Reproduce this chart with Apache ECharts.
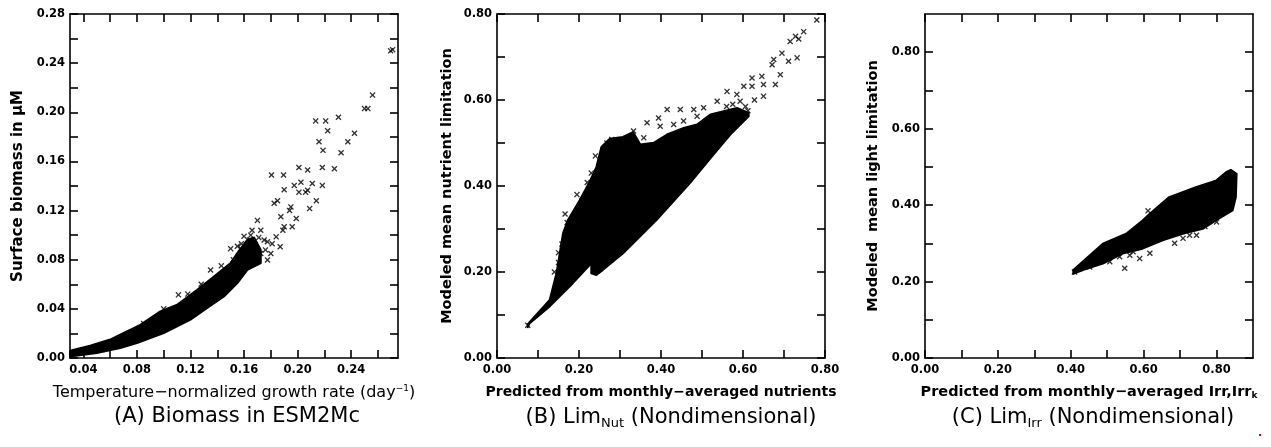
<!DOCTYPE html>
<html><head><meta charset="utf-8">
<script src="https://cdn.jsdelivr.net/npm/echarts@6/dist/echarts.min.js"></script>
<style>html,body{margin:0;padding:0;background:#fff}#c{width:1271px;height:447px}</style>
</head><body><div id="c"></div>
<script>
// ---------- Panel A: biomass vs growth rate ----------
const A_X_TICKS = [0.04,0.06,0.08,0.10,0.12,0.14,0.16,0.18,0.20,0.22,0.24,0.26];
const A_X_LABELS = [0.04,0.08,0.12,0.16,0.20,0.24];
const A_Y_TICKS = [0,0.02,0.04,0.06,0.08,0.10,0.12,0.14,0.16,0.18,0.20,0.22,0.24,0.26,0.28];
const A_Y_LABELS = [0,0.04,0.08,0.12,0.16,0.20,0.24,0.28];
// dense cloud outline (growth rate, biomass)
const A_CLOUD = [
 [0.030,0.0060],[0.045,0.0100],[0.060,0.0150],[0.0675,0.0190],[0.0825,0.0270],[0.0975,0.0379],
 [0.110,0.0434],[0.125,0.0556],[0.1375,0.0664],[0.150,0.0773],[0.155,0.0854],[0.1625,0.0963],
 [0.1675,0.0980],[0.1725,0.0880],[0.1725,0.0800],
 [0.1725,0.0773],[0.1625,0.0718],[0.155,0.0610],[0.145,0.0501],[0.1325,0.0407],[0.120,0.0312],
 [0.100,0.0203],[0.080,0.0122],[0.0675,0.0081],[0.050,0.0040],[0.030,0.0012]
];
// individual points outside the dense cloud
const A_POINTS = [
 [0.271,0.251],[0.2695,0.250],[0.256,0.214],[0.250,0.203],[0.2525,0.203],[0.2425,0.183],
 [0.2375,0.176],[0.2325,0.167],[0.2305,0.196],[0.221,0.193],[0.2135,0.193],[0.2225,0.185],
 [0.216,0.176],[0.219,0.169],[0.2185,0.155],[0.2275,0.154],[0.201,0.155],[0.2075,0.153],
 [0.1805,0.149],[0.1895,0.149],[0.2185,0.1405],[0.211,0.142],[0.2075,0.1365],[0.2025,0.143],
 [0.1975,0.1405],[0.190,0.137],[0.206,0.135],[0.201,0.135],[0.214,0.128],[0.209,0.1216],
 [0.195,0.123],[0.194,0.120],[0.185,0.128],[0.1825,0.126],[0.1875,0.115],[0.199,0.1135],
 [0.196,0.1068],[0.190,0.1068],[0.189,0.104],[0.184,0.0986],[0.1775,0.0946],[0.170,0.112],
 [0.1725,0.104],[0.175,0.096],[0.187,0.0905],[0.165,0.100],[0.164,0.096],[0.1575,0.089],
 [0.150,0.089],[0.135,0.0716],[0.111,0.0514],[0.1775,0.0797],[0.1725,0.085],[0.180,0.085],
 [0.168,0.092],[0.176,0.088],[0.181,0.093],[0.158,0.093],[0.152,0.080],[0.143,0.075],
 [0.128,0.060],[0.118,0.052],[0.100,0.040],[0.085,0.028],[0.160,0.099],[0.171,0.098],
 [0.166,0.104],[0.155,0.091]
];

// ---------- Panel B: nutrient limitation ----------
const B_TICKS = [0,0.1,0.2,0.3,0.4,0.5,0.6,0.7,0.8];
const B_LABELS = [0,0.2,0.4,0.6,0.8];
const B_CLOUD = [
 [0.0756,0.0795],[0.1285,0.135],[0.145,0.197],[0.153,0.243],[0.161,0.290],[0.173,0.321],
 [0.2017,0.367],[0.226,0.410],[0.2424,0.444],[0.2546,0.491],[0.275,0.510],[0.307,0.514],
 [0.332,0.525],[0.3496,0.4966],[0.3821,0.5005],[0.4146,0.5198],[0.4553,0.5352],[0.4878,0.5430],
 [0.5203,0.5662],[0.5528,0.5739],[0.5854,0.5816],[0.6138,0.5700],
 [0.6138,0.5623],[0.5691,0.5198],[0.5285,0.4734],[0.470,0.406],[0.389,0.321],[0.307,0.243],
 [0.2585,0.205],[0.2424,0.193],[0.230,0.197],[0.230,0.220],[0.185,0.174],[0.1285,0.120],
 [0.0798,0.081],[0.0748,0.0716]
];
const B_POINTS = [
 [0.780,0.786],[0.748,0.759],[0.728,0.748],[0.715,0.736],[0.736,0.742],[0.695,0.709],
 [0.675,0.694],[0.671,0.682],[0.711,0.690],[0.732,0.698],[0.691,0.659],[0.679,0.636],
 [0.650,0.636],[0.646,0.655],[0.622,0.651],[0.650,0.609],[0.622,0.632],[0.602,0.632],
 [0.585,0.613],[0.593,0.597],[0.561,0.620],[0.537,0.597],[0.504,0.582],[0.480,0.578],
 [0.447,0.578],[0.415,0.578],[0.488,0.562],[0.455,0.551],[0.431,0.543],[0.394,0.558],
 [0.366,0.547],[0.398,0.539],[0.333,0.528],[0.358,0.512],[0.268,0.500],[0.280,0.508],
 [0.220,0.408],[0.2195,0.373],[0.207,0.365],[0.171,0.315],[0.175,0.303],[0.1585,0.265],
 [0.163,0.257],[0.150,0.222],[0.606,0.585],[0.612,0.575],[0.598,0.570],[0.628,0.600],
 [0.560,0.585],[0.575,0.590],[0.075,0.076],[0.240,0.470],[0.230,0.430],[0.166,0.335],
 [0.195,0.380],[0.150,0.245],[0.140,0.200]
];

// ---------- Panel C: light limitation ----------
const C_TICKS = [0,0.1,0.2,0.3,0.4,0.5,0.6,0.7,0.8];
const C_LABELS = [0,0.2,0.4,0.6,0.8];
const C_CLOUD = [
 [0.407,0.230],[0.488,0.299],[0.552,0.325],[0.597,0.360],[0.616,0.377],[0.670,0.421],
 [0.743,0.447],[0.798,0.464],[0.826,0.486],[0.839,0.492],[0.855,0.482],
 [0.853,0.421],[0.844,0.386],[0.798,0.360],[0.762,0.338],[0.707,0.325],[0.652,0.308],
 [0.597,0.286],[0.542,0.273],[0.488,0.247],[0.433,0.230],[0.407,0.220]
];
const C_POINTS = [
 [0.612,0.385],[0.548,0.235],[0.589,0.260],[0.617,0.274],[0.685,0.300],[0.708,0.313],
 [0.726,0.321],[0.745,0.321],[0.768,0.344],[0.800,0.356],[0.571,0.278],[0.562,0.269],
 [0.425,0.234],[0.438,0.243],[0.461,0.256],[0.479,0.252],[0.507,0.252],[0.534,0.265],
 [0.410,0.225],[0.452,0.238]
];

const CROSS = 'path://M0,1.6L1.6,0L5,3.4L8.4,0L10,1.6L6.6,5L10,8.4L8.4,10L5,6.6L1.6,10L0,8.4L3.4,5Z';
const FONT = 'DejaVu Sans';
const fmt = v => Number(v).toFixed(2);

const grids = [
  {left:70, top:14, width:328, height:344},
  {left:497, top:14, width:328, height:344},
  {left:925, top:14, width:328, height:344}
];
const line = {show:true, onZero:false, lineStyle:{color:'#000', width:1.6}};

function axisPair(kind, gi, min, max, ticks, labels, name, nameGap, nameStyle) {
  const primary = {
    type:'value', gridIndex:gi, min:min, max:max,
    position: kind==='x' ? 'bottom' : 'left',
    axisLine: line,
    axisTick: {show:true, inside:true, length:8, customValues:ticks, lineStyle:{color:'#000', width:1.6}},
    axisLabel: {show:true, customValues:labels, formatter:fmt, color:'#000', fontFamily:FONT, fontWeight:'bold', fontSize:11.5, margin: kind==='x'?6:5, showMinLabel:true, showMaxLabel:true},
    splitLine:{show:false},
    name:name, nameLocation:'middle', nameGap:nameGap, nameTextStyle:nameStyle
  };
  const secondary = {
    type:'value', gridIndex:gi, min:min, max:max,
    position: kind==='x' ? 'top' : 'right',
    axisLine: line,
    axisTick: {show:true, inside:true, length:8, customValues:ticks, lineStyle:{color:'#000', width:1.6}},
    axisLabel: {show:false}, splitLine:{show:false}
  };
  return [primary, secondary];
}

const xTitleStyle = (w, s) => ({color:'#000', fontFamily:FONT, fontSize:s, fontWeight:w,
  rich:{sup:{fontSize:9, fontFamily:FONT, fontWeight:w, verticalAlign:'top', padding:[0,0,8,0]},
        sub:{fontSize:9, fontFamily:FONT, fontWeight:w, verticalAlign:'bottom', padding:[6,0,0,0]}}});
const yTitleStyle = (s) => ({color:'#000', fontFamily:FONT, fontSize:s, fontWeight:'bold'});

const xAxes = [
  ...axisPair('x',0,0.03,0.275,A_X_TICKS,A_X_LABELS,'Temperature\u2212normalized growth rate (day{sup|\u22121})',26,xTitleStyle('normal',16)),
  ...axisPair('x',1,0,0.8,B_TICKS,B_LABELS,'Predicted from monthly\u2212averaged nutrients',27,xTitleStyle('600',14)),
  ...axisPair('x',2,0,0.9,C_TICKS,C_LABELS,'Predicted from monthly\u2212averaged Irr,Irr{sub|k}',27,xTitleStyle('600',14.5))
];
const yAxes = [
  ...axisPair('y',0,0,0.28,A_Y_TICKS,A_Y_LABELS,'Surface biomass in \u03bcM',44,yTitleStyle(15)),
  ...axisPair('y',1,0,0.8,B_TICKS,B_LABELS,'Modeled mean nutrient limitation',42,yTitleStyle(14.5)),
  ...axisPair('y',2,0,0.9,C_TICKS,C_LABELS,'Modeled  mean light limitation',44,yTitleStyle(14.5))
];

function cloudSeries(idx, poly) {
  return {
    type:'custom', xAxisIndex:idx*2, yAxisIndex:idx*2, data:poly, encode:{x:0,y:1},
    silent:true, z:2,
    renderItem:function(params, api){
      if (params.dataIndex !== 0) return null;
      return {type:'polygon', shape:{points: poly.map(p => api.coord(p))},
              style:{fill:'#000', stroke:'#000', lineWidth:2, lineJoin:'round'}};
    }
  };
}
function pointSeries(idx, pts) {
  return {type:'scatter', xAxisIndex:idx*2, yAxisIndex:idx*2, data:pts, symbol:CROSS,
          symbolSize:6, itemStyle:{color:'#000'}, silent:true, z:3};
}

const capStyle = {color:'#000', fontFamily:FONT, fontSize:21, fontWeight:'normal',
  rich:{sub:{fontSize:13, fontFamily:FONT, verticalAlign:'bottom', padding:[11,0,0,0]}}};

const option = {
  animation:false,
  backgroundColor:'#fff',
  grid: grids,
  xAxis: xAxes,
  yAxis: yAxes,
  title: [
    {text:'(A) Biomass in ESM2Mc', left:232, top:401, textAlign:'center', textStyle:capStyle},
    {text:'(B) Lim{sub|Nut} (Nondimensional)', left:666, top:401, textAlign:'center', textStyle:capStyle},
    {text:'(C) Lim{sub|Irr} (Nondimensional)', left:1088, top:401, textAlign:'center', textStyle:capStyle}
  ],
  graphic:[{type:'rect', left:1259, top:434, shape:{width:2, height:2}, style:{fill:'#e00000'}}],
  series: [
    cloudSeries(0, A_CLOUD), pointSeries(0, A_POINTS),
    cloudSeries(1, B_CLOUD), pointSeries(1, B_POINTS),
    cloudSeries(2, C_CLOUD), pointSeries(2, C_POINTS)
  ]
};
const chart = echarts.init(document.getElementById('c'), null, {renderer:'canvas'});
chart.setOption(option);
</script></body></html>
